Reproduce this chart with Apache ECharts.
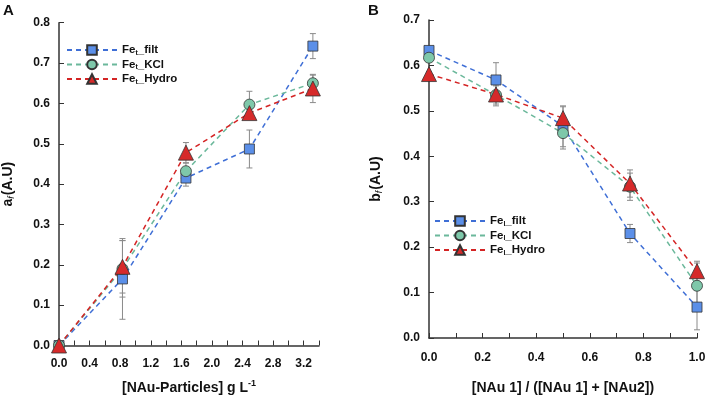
<!DOCTYPE html>
<html>
<head>
<meta charset="utf-8">
<script src="https://cdn.jsdelivr.net/npm/echarts@6/dist/echarts.min.js"></script>
<style>html,body{margin:0;padding:0;background:#fff}#c{width:709px;height:400px}</style>
</head>
<body>
<div id="c"></div>
<script>
// ---- Data ----
const xA = [0, 0.83, 1.66, 2.49, 3.32];
const filtA = [0, 0.165, 0.415, 0.487, 0.742];
const errFiltA = [0, 0.1, 0.02, 0.047, 0.031];
const kclA = [0, 0.19, 0.432, 0.597, 0.65];
const errKclA = [0, 0.07, 0.02, 0.033, 0.02];
const hydroA = [0, 0.195, 0.478, 0.576, 0.637];
const errHydroA = [0, 0.065, 0.025, 0.015, 0.035];

const xB = [0, 0.25, 0.5, 0.75, 1.0];
const filtB = [0.633, 0.568, 0.466, 0.23, 0.068];
const errFiltB = [0.005, 0.038, 0.045, 0.02, 0.05];
const kclB = [0.617, 0.535, 0.451, 0.333, 0.115];
const errKclB = [0.005, 0.02, 0.035, 0.03, 0.05];
const hydroB = [0.581, 0.536, 0.484, 0.34, 0.147];
const errHydroB = [0.005, 0.025, 0.025, 0.03, 0.022];

const namesA = ['Fe_t_filt', 'Fe_t_KCl', 'Fe_t_Hydro'];
const namesB = ['Fe_l_filt', 'Fe_l_KCl', 'Fe_l_Hydro'];

// ---- Styles ----
const FONT = 'Liberation Sans, Arial, sans-serif';
const styles = [
  {line: '#3f6fd6', fill: '#5b8fe8', symbol: 'rect', size: 10},
  {line: '#6bb89b', fill: '#7ec8aa', symbol: 'circle', size: 11},
  {line: '#d42424', fill: '#d62a2a', symbol: 'triangle', size: 15}
];

function zip(xs, ys) { return xs.map((x, i) => [x, ys[i]]); }
function zip3(xs, ys, es) { return xs.map((x, i) => [x, ys[i], es[i]]); }

function errSeries(xi, xs, ys, es) {
  return {
    type: 'custom', xAxisIndex: xi, yAxisIndex: xi, z: 1, silent: true,
    data: zip3(xs, ys, es),
    renderItem: function (params, api) {
      const x = api.value(0), y = api.value(1), e = api.value(2);
      if (!e) return null;
      const t = api.coord([x, y + e]), b = api.coord([x, y - e]);
      const w = 3;
      const st = {stroke: '#8a8a8a', lineWidth: 1};
      return {type: 'group', children: [
        {type: 'line', shape: {x1: t[0], y1: t[1], x2: b[0], y2: b[1]}, style: st},
        {type: 'line', shape: {x1: t[0] - w, y1: t[1], x2: t[0] + w, y2: t[1]}, style: st},
        {type: 'line', shape: {x1: b[0] - w, y1: b[1], x2: b[0] + w, y2: b[1]}, style: st}
      ]};
    }
  };
}

function lineSeries(xi, name, xs, ys, s) {
  return {
    type: 'line', name: name, xAxisIndex: xi, yAxisIndex: xi, z: 3,
    data: zip(xs, ys), clip: false,
    symbol: s.symbol, symbolSize: s.size,
    lineStyle: {color: s.line, width: 1.5, type: [5, 4]},
    itemStyle: {color: s.fill, borderColor: '#333', borderWidth: 0.8},
    emphasis: {disabled: true}
  };
}

const labelStyle = {color: '#111', fontWeight: 'bold', fontSize: 12, fontFamily: FONT};
const axisLine = {show: true, lineStyle: {color: '#333', width: 1.5}};
const axisTick = {show: true, inside: true, length: 5, lineStyle: {color: '#333', width: 1}};

function legendFmt(name) {
  const parts = name.split('_');
  return '{a|Fe}{s|' + parts[1] + '}{a|_' + parts[2] + '}';
}
const legendRich = {
  a: {fontWeight: 'bold', fontSize: 11.5, fontFamily: FONT, color: '#111'},
  s: {fontWeight: 'bold', fontSize: 7, fontFamily: FONT, color: '#111', verticalAlign: 'bottom', padding: [6, 0, 0, 0]}
};
const titleRich = {
  t: {fontWeight: 'bold', fontSize: 14, fontFamily: FONT, color: '#111'},
  s: {fontStyle: 'italic', fontSize: 9, fontFamily: FONT, color: '#111', verticalAlign: 'bottom', padding: [7, 1, 0, 0]}
};

const option = {
  animation: false,
  backgroundColor: '#fff',
  graphic: [
    {type: 'text', left: 3, top: 3, style: {text: 'A', font: 'bold 15px ' + FONT, fill: '#111'}},
    {type: 'text', left: 368, top: 3, style: {text: 'B', font: 'bold 15px ' + FONT, fill: '#111'}}
  ],
  grid: [
    {left: 57, top: 22.7, width: 262, height: 332.3},
    {left: 429, top: 20, width: 268, height: 324}
  ],
  xAxis: [
    {type: 'value', gridIndex: 0, min: 0, max: 3.4, interval: 0.2,
      axisLine: axisLine, axisTick: axisTick, splitLine: {show: false},
      axisLabel: Object.assign({margin: 12, formatter: v => (Math.round(v * 10) % 4 === 0 ? v.toFixed(1) : '')}, labelStyle),
      name: '{t|[NAu-Particles] g L}{sup|-1}', nameLocation: 'middle', nameGap: 34,
      nameTextStyle: {rich: {
        t: {fontWeight: 'bold', fontSize: 14, fontFamily: FONT, color: '#111'},
        sup: {fontWeight: 'bold', fontSize: 9, fontFamily: FONT, color: '#111', verticalAlign: 'top', padding: [0, 0, 8, 0]}
      }}},
    {type: 'value', gridIndex: 1, min: 0, max: 1.0, interval: 0.1,
      axisLine: axisLine, axisTick: axisTick, splitLine: {show: false},
      axisLabel: Object.assign({margin: 14, formatter: v => (Math.round(v * 10) % 2 === 0 ? v.toFixed(1) : '')}, labelStyle),
      name: '[NAu 1] / ([NAu 1] + [NAu2])', nameLocation: 'middle', nameGap: 43,
      nameTextStyle: {fontWeight: 'bold', fontSize: 14, fontFamily: FONT, color: '#111'}}
  ],
  yAxis: [
    {type: 'value', gridIndex: 0, min: 0, max: 0.8, interval: 0.1,
      axisLine: axisLine, axisTick: axisTick, splitLine: {show: false},
      axisLabel: Object.assign({margin: 9, formatter: v => v.toFixed(1)}, labelStyle),
      name: '{t|a}{s|f}{t|(A.U)}', nameLocation: 'middle', nameGap: 43, nameRotate: 90,
      nameTextStyle: {rich: titleRich}},
    {type: 'value', gridIndex: 1, min: 0, max: 0.7, interval: 0.1,
      axisLine: axisLine, axisTick: axisTick, splitLine: {show: false},
      axisLabel: Object.assign({margin: 9, formatter: v => v.toFixed(1)}, labelStyle),
      name: '{t|b}{s|f}{t|(A.U)}', nameLocation: 'middle', nameGap: 45, nameRotate: 90,
      nameTextStyle: {rich: titleRich}}
  ],
  legend: [
    {data: namesA, orient: 'vertical', left: 66, top: 44, padding: 0, itemWidth: 50, itemHeight: 12, itemGap: 2,
      formatter: legendFmt, textStyle: {rich: legendRich}, selectedMode: false},
    {data: namesB, orient: 'vertical', left: 434, top: 215, padding: 0, itemWidth: 50, itemHeight: 12, itemGap: 2,
      formatter: legendFmt, textStyle: {rich: legendRich}, selectedMode: false}
  ],
  series: [
    errSeries(0, xA, filtA, errFiltA),
    errSeries(0, xA, kclA, errKclA),
    errSeries(0, xA, hydroA, errHydroA),
    lineSeries(0, namesA[0], xA, filtA, styles[0]),
    lineSeries(0, namesA[1], xA, kclA, styles[1]),
    lineSeries(0, namesA[2], xA, hydroA, styles[2]),
    errSeries(1, xB, filtB, errFiltB),
    errSeries(1, xB, kclB, errKclB),
    errSeries(1, xB, hydroB, errHydroB),
    lineSeries(1, namesB[0], xB, filtB, styles[0]),
    lineSeries(1, namesB[1], xB, kclB, styles[1]),
    lineSeries(1, namesB[2], xB, hydroB, styles[2])
  ]
};

const chart = echarts.init(document.getElementById('c'), null, {renderer: 'canvas'});
chart.setOption(option);
</script>
</body>
</html>
